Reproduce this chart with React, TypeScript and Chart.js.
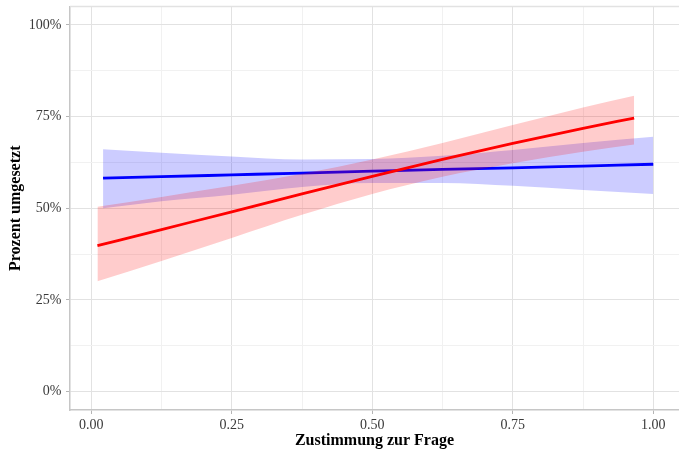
import React, { useEffect, useRef } from "react";
import { Chart, registerables } from "chart.js";

Chart.register(...registerables);

// Red group (logistic smooth with confidence band)
const redX = [0.011, 0.125, 0.25, 0.375, 0.5, 0.625, 0.75, 0.875, 0.966];
const redFit = [0.398, 0.442, 0.49, 0.539, 0.587, 0.633, 0.677, 0.718, 0.746];
const redLow = [0.301, 0.356, 0.419, 0.482, 0.539, 0.586, 0.623, 0.654, 0.674];
const redHigh = [0.504, 0.531, 0.561, 0.594, 0.633, 0.678, 0.727, 0.775, 0.807];

// Blue group
const blueX = [0.021, 0.125, 0.25, 0.375, 0.5, 0.625, 0.75, 0.875, 1.0];
const blueFit = [0.582, 0.586, 0.591, 0.596, 0.601, 0.606, 0.61, 0.615, 0.62];
const blueLow = [0.5, 0.519, 0.537, 0.558, 0.569, 0.569, 0.561, 0.55, 0.539];
const blueHigh = [0.661, 0.651, 0.641, 0.633, 0.634, 0.643, 0.659, 0.678, 0.695];

// Axis ticks (major + minor)
const xTickValues = [0, 0.125, 0.25, 0.375, 0.5, 0.625, 0.75, 0.875, 1.0];
const yTickValues = [0, 0.125, 0.25, 0.375, 0.5, 0.625, 0.75, 0.875, 1.0];
const xTickLabels = ["0.00", "", "0.25", "", "0.50", "", "0.75", "", "1.00"];
const yTickLabels = ["0%", "", "25%", "", "50%", "", "75%", "", "100%"];

const xTitle = "Zustimmung zur Frage";
const yTitle = "Prozent umgesetzt";

const toPts = (xs: number[], ys: number[]) => xs.map((x, i) => ({ x, y: ys[i] }));

const isMajor = (v: number) => Math.abs(v * 4 - Math.round(v * 4)) < 1e-9;

const FONT = "'Liberation Serif', 'Times New Roman', serif";

export default function App() {
  const ref = useRef<HTMLCanvasElement | null>(null);

  useEffect(() => {
    if (!ref.current) return;

    const topLine = {
      id: "topLine",
      beforeDatasetsDraw(chart: any) {
        const { ctx, chartArea } = chart;
        ctx.save();
        ctx.strokeStyle = "#e2e2e2";
        ctx.lineWidth = 1.5;
        ctx.beginPath();
        ctx.moveTo(chartArea.left, chartArea.top);
        ctx.lineTo(chartArea.right, chartArea.top);
        ctx.stroke();
        ctx.restore();
      },
    };

    const gridColor = (ctx: any) =>
      ctx.tick && isMajor(ctx.tick.value) ? "#e2e2e2" : "#f1f1f1";
    const tickColor = (ctx: any) =>
      ctx.tick && isMajor(ctx.tick.value) ? "#b5b5b5" : "rgba(0,0,0,0)";

    const chart = new Chart(ref.current, {
      type: "line",
      data: {
        datasets: [
          {
            label: "red",
            data: toPts(redX, redFit),
            borderColor: "#ff0000",
            borderWidth: 2.8,
            pointRadius: 0,
            fill: false,
            cubicInterpolationMode: "monotone",
            order: 0,
          },
          {
            label: "redHigh",
            data: toPts(redX, redHigh),
            borderWidth: 0,
            borderColor: "rgba(0,0,0,0)",
            backgroundColor: "rgba(255,0,0,0.2)",
            pointRadius: 0,
            fill: 2,
            cubicInterpolationMode: "monotone",
            order: 1,
          },
          {
            label: "redLow",
            data: toPts(redX, redLow),
            borderWidth: 0,
            borderColor: "rgba(0,0,0,0)",
            pointRadius: 0,
            fill: false,
            cubicInterpolationMode: "monotone",
            order: 1,
          },
          {
            label: "blue",
            data: toPts(blueX, blueFit),
            borderColor: "#0000ff",
            borderWidth: 2.8,
            pointRadius: 0,
            fill: false,
            cubicInterpolationMode: "monotone",
            order: 2,
          },
          {
            label: "blueHigh",
            data: toPts(blueX, blueHigh),
            borderWidth: 0,
            borderColor: "rgba(0,0,0,0)",
            backgroundColor: "rgba(0,0,255,0.2)",
            pointRadius: 0,
            fill: 5,
            cubicInterpolationMode: "monotone",
            order: 3,
          },
          {
            label: "blueLow",
            data: toPts(blueX, blueLow),
            borderWidth: 0,
            borderColor: "rgba(0,0,0,0)",
            pointRadius: 0,
            fill: false,
            cubicInterpolationMode: "monotone",
            order: 3,
          },
        ],
      },
      options: {
        animation: false,
        responsive: false,
        maintainAspectRatio: false,
        devicePixelRatio: 1,
        layout: { padding: { top: 6.5, right: 0, left: 0, bottom: 0 } },
        plugins: {
          legend: { display: false },
          tooltip: { enabled: false },
        },
        scales: {
          x: {
            type: "linear",
            min: -0.0378,
            max: 1.0458,
            afterBuildTicks: (s: any) => {
              s.ticks = xTickValues.map((v) => ({ value: v }));
            },
            afterFit: (s: any) => {
              s.height = 40;
              s.paddingLeft = 0;
              s.paddingRight = 0;
              s.paddingTop = 0;
              s.paddingBottom = 0;
            },
            ticks: {
              autoSkip: false,
              maxRotation: 0,
              padding: 3,
              color: "#3a3a3a",
              font: { family: FONT, size: 14 },
              callback: (v: any) => {
                const i = xTickValues.findIndex((t) => Math.abs(t - v) < 1e-9);
                return i >= 0 ? xTickLabels[i] : "";
              },
            },
            grid: {
              color: gridColor,
              lineWidth: 1,
              tickLength: 4,
              tickColor: tickColor,
              tickWidth: 1,
            },
            border: { color: "#c6c6c6", width: 1.5 },
            title: {
              display: true,
              text: xTitle,
              color: "#000",
              padding: { top: 0, bottom: 0 },
              font: { family: FONT, size: 16, weight: "bold", lineHeight: 1.1 },
            },
          },
          y: {
            type: "linear",
            min: -0.05,
            max: 1.05,
            afterBuildTicks: (s: any) => {
              s.ticks = yTickValues.map((v) => ({ value: v }));
            },
            afterFit: (s: any) => {
              s.width = 70;
              s.paddingLeft = 0;
              s.paddingRight = 0;
              s.paddingTop = 0;
              s.paddingBottom = 0;
            },
            ticks: {
              autoSkip: false,
              padding: 4.5,
              color: "#3a3a3a",
              font: { family: FONT, size: 14 },
              callback: (v: any) => {
                const i = yTickValues.findIndex((t) => Math.abs(t - v) < 1e-9);
                return i >= 0 ? yTickLabels[i] : "";
              },
            },
            grid: {
              color: gridColor,
              lineWidth: 1,
              tickLength: 4,
              tickColor: tickColor,
              tickWidth: 1,
            },
            border: { color: "#c6c6c6", width: 1.5 },
            title: {
              display: true,
              text: yTitle,
              color: "#000",
              padding: { top: 6, bottom: 0 },
              font: { family: FONT, size: 16, weight: "bold", lineHeight: 1.2 },
            },
          },
        },
      },
      plugins: [topLine],
    } as any);

    return () => chart.destroy();
  }, []);

  return (
    <div
      style={{
        position: "absolute",
        left: 0,
        top: 0,
        width: 679,
        height: 450,
        background: "#fff",
      }}
    >
      <canvas ref={ref} width={679} height={450} style={{ display: "block" }} />
    </div>
  );
}
